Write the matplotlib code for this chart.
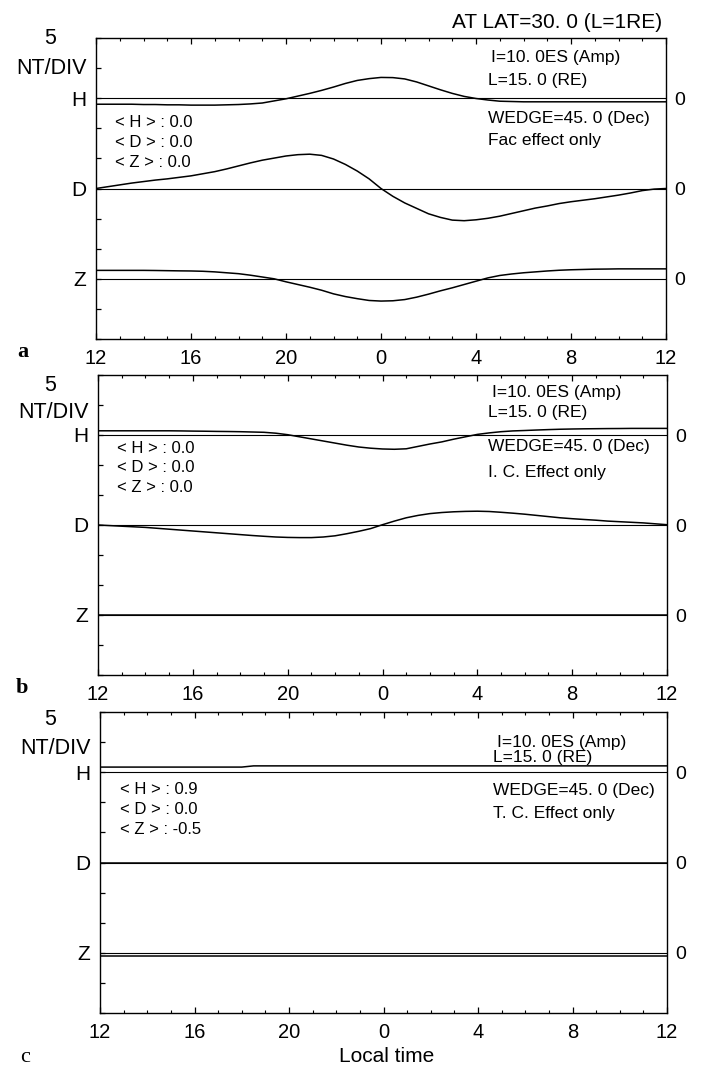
import numpy as np
import matplotlib
matplotlib.use("Agg")
import matplotlib.pyplot as plt
from matplotlib.ticker import MultipleLocator

plt.rcParams['font.family'] = ['Liberation Sans', 'DejaVu Sans']

# ---------------- data (nT, local time in hours, 12 -> 36 == 12 next day) ----------------
# readings every half hour from 12 LT to 12 LT next day
hours = [12, 12.5, 13, 13.5, 14, 14.5, 15, 15.5, 16, 16.5, 17, 17.5, 18, 18.5, 19, 19.5,
         20, 20.5, 21, 21.5, 22, 22.5, 23, 23.5, 24, 24.5, 25, 25.5, 26, 26.5, 27, 27.5,
         28, 28.5, 29, 29.5, 30, 30.5, 31, 31.5, 32, 32.5, 33, 33.5, 34, 34.5, 35, 35.5, 36]
xtick_pos = [12, 16, 20, 24, 28, 32, 36]
xtick_labels = ['12', '16', '20', '0', '4', '8', '12']
component_labels = ['H', 'D', 'Z']
component_base = [40, 25, 10]          # vertical offsets of the three traces (nT)

# Panel a: FAC effect only
H_a = [-1.0, -1.0, -1.0, -1.0, -1.05, -1.05, -1.1, -1.1,      # 12-15.5
       -1.15, -1.15, -1.15, -1.1, -1.05, -0.95, -0.8, -0.45,  # 16-19.5
       -0.1, 0.35, 0.8, 1.3, 1.85, 2.45, 2.95, 3.25,          # 20-23.5
       3.45, 3.42, 3.2, 2.7, 2.05, 1.4, 0.8, 0.3,             # 24-27.5
       -0.05, -0.3, -0.5, -0.55, -0.6, -0.6, -0.6, -0.6,      # 28-31.5
       -0.6, -0.6, -0.6, -0.6, -0.6, -0.6, -0.6, -0.6, -0.6]  # 32-36
D_a = [0.0, 0.3, 0.6, 0.9, 1.15, 1.4, 1.6, 1.85,
       2.1, 2.45, 2.8, 3.25, 3.75, 4.25, 4.7, 5.05,
       5.4, 5.62, 5.7, 5.5, 4.9, 4.0, 2.9, 1.6,
       0.0, -1.3, -2.4, -3.3, -4.2, -4.8, -5.25, -5.35,
       -5.2, -4.95, -4.6, -4.15, -3.7, -3.25, -2.9, -2.5,
       -2.2, -1.95, -1.7, -1.4, -1.1, -0.75, -0.35, -0.1, 0.0]
Z_a = [1.4, 1.4, 1.4, 1.4, 1.4, 1.38, 1.35, 1.32,
       1.3, 1.25, 1.15, 1.0, 0.85, 0.6, 0.3, 0.0,
       -0.5, -0.95, -1.4, -1.9, -2.5, -2.95, -3.3, -3.6,
       -3.7, -3.65, -3.45, -3.05, -2.55, -2.0, -1.5, -0.95,
       -0.4, 0.15, 0.55, 0.8, 1.0, 1.15, 1.3, 1.42,
       1.5, 1.55, 1.6, 1.62, 1.65, 1.65, 1.65, 1.65, 1.65]

# Panel b: I.C. effect only
H_b = [0.7, 0.7, 0.7, 0.7, 0.7, 0.7, 0.7, 0.68,
       0.65, 0.63, 0.6, 0.58, 0.55, 0.5, 0.45, 0.3,
       0.05, -0.3, -0.65, -1.0, -1.35, -1.7, -2.0, -2.2,
       -2.33, -2.38, -2.3, -1.9, -1.5, -1.15, -0.7, -0.3,
       0.1, 0.35, 0.55, 0.68, 0.75, 0.83, 0.9, 0.96,
       1.0, 1.03, 1.05, 1.07, 1.08, 1.1, 1.1, 1.1, 1.1]
D_b = [0.0, -0.1, -0.2, -0.3, -0.4, -0.55, -0.7, -0.85,
       -1.0, -1.15, -1.3, -1.45, -1.6, -1.75, -1.88, -2.0,
       -2.07, -2.1, -2.1, -2.0, -1.8, -1.45, -1.05, -0.6,
       0.05, 0.65, 1.2, 1.6, 1.9, 2.08, 2.2, 2.27,
       2.3, 2.25, 2.12, 1.97, 1.8, 1.6, 1.4, 1.2,
       1.05, 0.92, 0.8, 0.65, 0.55, 0.45, 0.35, 0.2, 0.05]
Z_b = [0.0] * 49

# Panel c: T.C. effect only
H_c = [0.85] * 13 + [1.05] * 36
D_c = [0.0] * 49
Z_c = [-0.45] * 49

mean_texts = [['< H > : 0.0', '< D > : 0.0', '< Z > : 0.0'],
              ['< H > : 0.0', '< D > : 0.0', '< Z > : 0.0'],
              ['< H > : 0.9', '< D > : 0.0', '< Z > : -0.5']]
effect_texts = ['Fac effect only', 'I. C. Effect only', 'T. C. Effect only']
amp_text = 'I=10. 0ES (Amp)'
l_text = 'L=15. 0 (RE)'
wedge_text = 'WEDGE=45. 0 (Dec)'
panel_letters = ['a', 'b', 'c']
title_text = 'AT LAT=30. 0 (L=1RE)'
series = [[H_a, D_a, Z_a], [H_b, D_b, Z_b], [H_c, D_c, Z_c]]

# ---------------- layout (pixels) ----------------
W, Hpx = 701, 1067
boxes = [(96, 666, 38, 339), (98, 667, 375, 675), (100, 667, 712, 1013)]
# text positions (x in hours, y in nT)
amp_pos = [(28.65, 46.7), (28.6, 47.0), (28.8, 45.0)]
lval_pos = [(28.5, 43.0), (28.45, 43.7), (28.63, 42.4)]
wedge_pos = [(28.5, 36.7), (28.45, 38.0), (28.63, 37.0)]
eff_pos = [(28.5, 33.0), (28.45, 33.7), (28.63, 33.1)]
mean_pos = [(12.8, [36.0, 32.7, 29.3]), (12.8, [37.8, 34.5, 31.2]), (12.85, [37.2, 33.8, 30.5])]
five_pos = [50.0, 48.3, 48.8]     # y (nT) of the "5"
ntdiv_pos = [45.0, 43.8, 44.0]    # y (nT) of "NT/DIV"
letter_px = [(23, 357), (22, 693), (25, 1062)]

fig = plt.figure(figsize=(W / 100, Hpx / 100), dpi=100)
fig.patch.set_facecolor('white')

for i, (l, r, t, b) in enumerate(boxes):
    ax = fig.add_axes([l / W, 1 - b / Hpx, (r - l) / W, (b - t) / Hpx])
    ax.set_xlim(12, 36)
    ax.set_ylim(0, 50)
    for base, vals in zip(component_base, series[i]):
        ax.axhline(base, color='black', lw=0.8, zorder=2)
        ax.plot(hours, [base + v for v in vals], color='black', lw=1.1, zorder=3,
                solid_joinstyle='round')
    for sp in ax.spines.values():
        sp.set_linewidth(1.0)
    ax.set_xticks(xtick_pos)
    ax.set_xticklabels(xtick_labels)
    ax.xaxis.set_minor_locator(MultipleLocator(1))
    ax.set_yticks(component_base)
    ax.set_yticklabels(component_labels)
    ax.yaxis.set_minor_locator(MultipleLocator(5))
    ax.tick_params(axis='x', which='major', direction='in', top=True, bottom=True,
                   length=4, width=0.9, labelsize=14.5, pad=7)
    ax.tick_params(axis='x', which='minor', direction='in', top=True, bottom=True,
                   length=2.2, width=0.8)
    ax.tick_params(axis='y', which='both', direction='in', left=True, right=True,
                   length=3.5, width=0.9)
    ax.tick_params(axis='y', which='major', labelsize=15, pad=7)

    ax2 = ax.twinx()
    ax2.set_ylim(0, 50)
    ax2.set_yticks(component_base)
    ax2.set_yticklabels(['0'] * 3)
    ax2.tick_params(axis='y', length=0, labelsize=14, pad=6)
    for sp in ax2.spines.values():
        sp.set_visible(False)

    # left "5" and "NT/DIV"
    ax.annotate('5', xy=(0, five_pos[i]), xycoords=('axes fraction', 'data'),
                xytext=(-(l - 50) * 0.72, 0), textcoords='offset points',
                ha='center', va='center', fontsize=15.5)
    ax.annotate('NT/DIV', xy=(0, ntdiv_pos[i]), xycoords=('axes fraction', 'data'),
                xytext=(-7, 0), textcoords='offset points',
                ha='right', va='center', fontsize=15.5)

    mx, mys = mean_pos[i]
    for txt, my in zip(mean_texts[i], mys):
        ax.text(mx, my, txt, ha='left', va='center', fontsize=12)
    ax.text(*amp_pos[i], amp_text, ha='left', va='center', fontsize=12.5)
    ax.text(*lval_pos[i], l_text, ha='left', va='center', fontsize=12.5)
    ax.text(*wedge_pos[i], wedge_text, ha='left', va='center', fontsize=12.5)
    ax.text(*eff_pos[i], effect_texts[i], ha='left', va='center', fontsize=12.5)

    lx, ly = letter_px[i]
    fig.text(lx / W, 1 - ly / Hpx, panel_letters[i], ha='center', va='baseline',
             fontsize=16, family=['Liberation Serif', 'DejaVu Serif'],
             fontweight='bold' if i < 2 else 'normal')

fig.text(662 / W, 1 - 22 / Hpx, title_text, ha='right', va='center', fontsize=15)
fig.text(387 / W, 1 - 1056 / Hpx, 'Local time', ha='center', va='center', fontsize=15)

fig.savefig('out.png', dpi=100, facecolor='white')
